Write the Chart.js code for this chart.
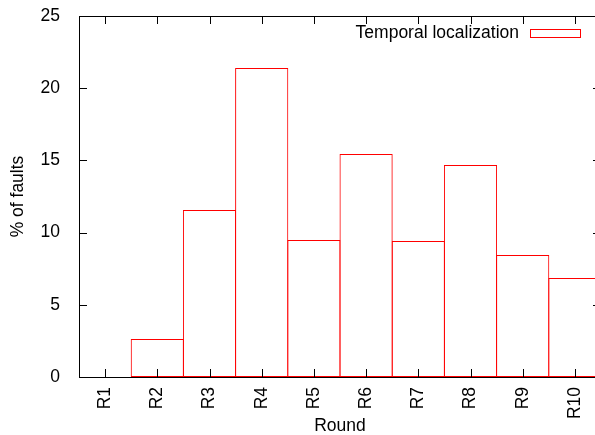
<!DOCTYPE html>
<html>
<head>
<meta charset="utf-8">
<script src="https://cdn.jsdelivr.net/npm/chart.js@4"></script>
<style>
  html, body { margin: 0; padding: 0; background: #fff; overflow: hidden; }
  #wrap { width: 603px; height: 435px; }
</style>
</head>
<body>
<div id="wrap"><canvas id="chart" width="603" height="435"></canvas></div>
<script>
const rounds = ['R1', 'R2', 'R3', 'R4', 'R5', 'R6', 'R7', 'R8', 'R9', 'R10'];
const faultPercent = [0, 2.63, 11.57, 21.4, 9.49, 15.44, 9.42, 14.68, 8.45, 6.86];
const yTicks = [0, 5, 10, 15, 20, 25];
const seriesLabel = 'Temporal localization';

const FONT = "'Liberation Sans', Arial, Helvetica, sans-serif";
const FSIZE = 17.5;

// gnuplot style frame, inward ticks (mirrored) and key
const gnuFrame = {
    id: 'gnuFrame',
    afterDraw(chart) {
        const c = chart.ctx;
        const a = chart.chartArea;
        const xs = chart.scales.x;
        const ys = chart.scales.y;
        const tl = 8;
        c.save();
        c.strokeStyle = '#000';
        c.lineWidth = 1;
        c.beginPath();
        rounds.forEach((r, i) => {
            const px = Math.round(xs.getPixelForValue(i)) + 0.5;
            c.moveTo(px, a.bottom);
            c.lineTo(px, a.bottom - tl);
            c.moveTo(px, a.top);
            c.lineTo(px, a.top + tl);
        });
        yTicks.forEach(v => {
            const py = Math.round(ys.getPixelForValue(v)) + 0.5;
            c.moveTo(a.left, py);
            c.lineTo(a.left + tl, py);
            c.moveTo(a.right, py);
            c.lineTo(a.right - tl, py);
        });
        c.stroke();
        c.strokeRect(Math.round(a.left) + 0.5, Math.round(a.top) + 0.5,
            Math.round(a.right - a.left), Math.round(a.bottom - a.top));

        // key
        const ds = chart.data.datasets[0];
        const boxR = a.right - 21;
        const boxL = boxR - 50;
        const ky = a.top + 17;
        c.fillStyle = '#000';
        c.font = FSIZE + 'px ' + FONT;
        c.textAlign = 'right';
        c.textBaseline = 'middle';
        c.fillText(ds.label, boxL - 11, ky);
        c.strokeStyle = ds.borderColor;
        c.strokeRect(boxL + 0.5, ky - 4 + 0.5, 50, 8);
        c.restore();
    }
};

new Chart(document.getElementById('chart'), {
    type: 'bar',
    data: {
        labels: rounds,
        datasets: [{
            label: seriesLabel,
            data: faultPercent,
            backgroundColor: 'rgba(0,0,0,0)',
            borderColor: '#ff0000',
            borderWidth: 1,
            borderSkipped: false,
            inflateAmount: 0,
            categoryPercentage: 1,
            // bars overlap by one pixel so neighbouring edges share one line
            barPercentage: 1.019
        }]
    },
    options: {
        responsive: false,
        animation: false,
        layout: { padding: { top: 16, right: 2, left: 0, bottom: 0 } },
        plugins: {
            legend: { display: false },
            tooltip: { enabled: false }
        },
        scales: {
            x: {
                grid: { display: false },
                border: { display: false },
                ticks: {
                    color: '#000',
                    font: { family: FONT, size: FSIZE },
                    minRotation: 90,
                    maxRotation: 90,
                    autoSkip: false,
                    padding: 2
                },
                title: {
                    display: true,
                    text: 'Round',
                    color: '#000',
                    font: { family: FONT, size: FSIZE },
                    padding: { top: 0, bottom: -2 }
                },
                afterFit(scale) {
                    scale.height = 58;
                    scale.paddingLeft = 0;
                    scale.paddingRight = 0;
                }
            },
            y: {
                min: 0,
                max: 25,
                grid: { display: false },
                border: { display: false },
                afterBuildTicks(scale) { scale.ticks = yTicks.map(v => ({ value: v })); },
                ticks: {
                    color: '#000',
                    font: { family: FONT, size: FSIZE },
                    padding: 11
                },
                title: {
                    display: true,
                    text: '% of faults',
                    color: '#000',
                    font: { family: FONT, size: FSIZE },
                    padding: { top: 8, bottom: 0 }
                },
                afterFit(scale) {
                    scale.width = 79;
                    scale.paddingTop = 0;
                    scale.paddingBottom = 0;
                }
            }
        }
    },
    plugins: [gnuFrame]
});
</script>
</body>
</html>
